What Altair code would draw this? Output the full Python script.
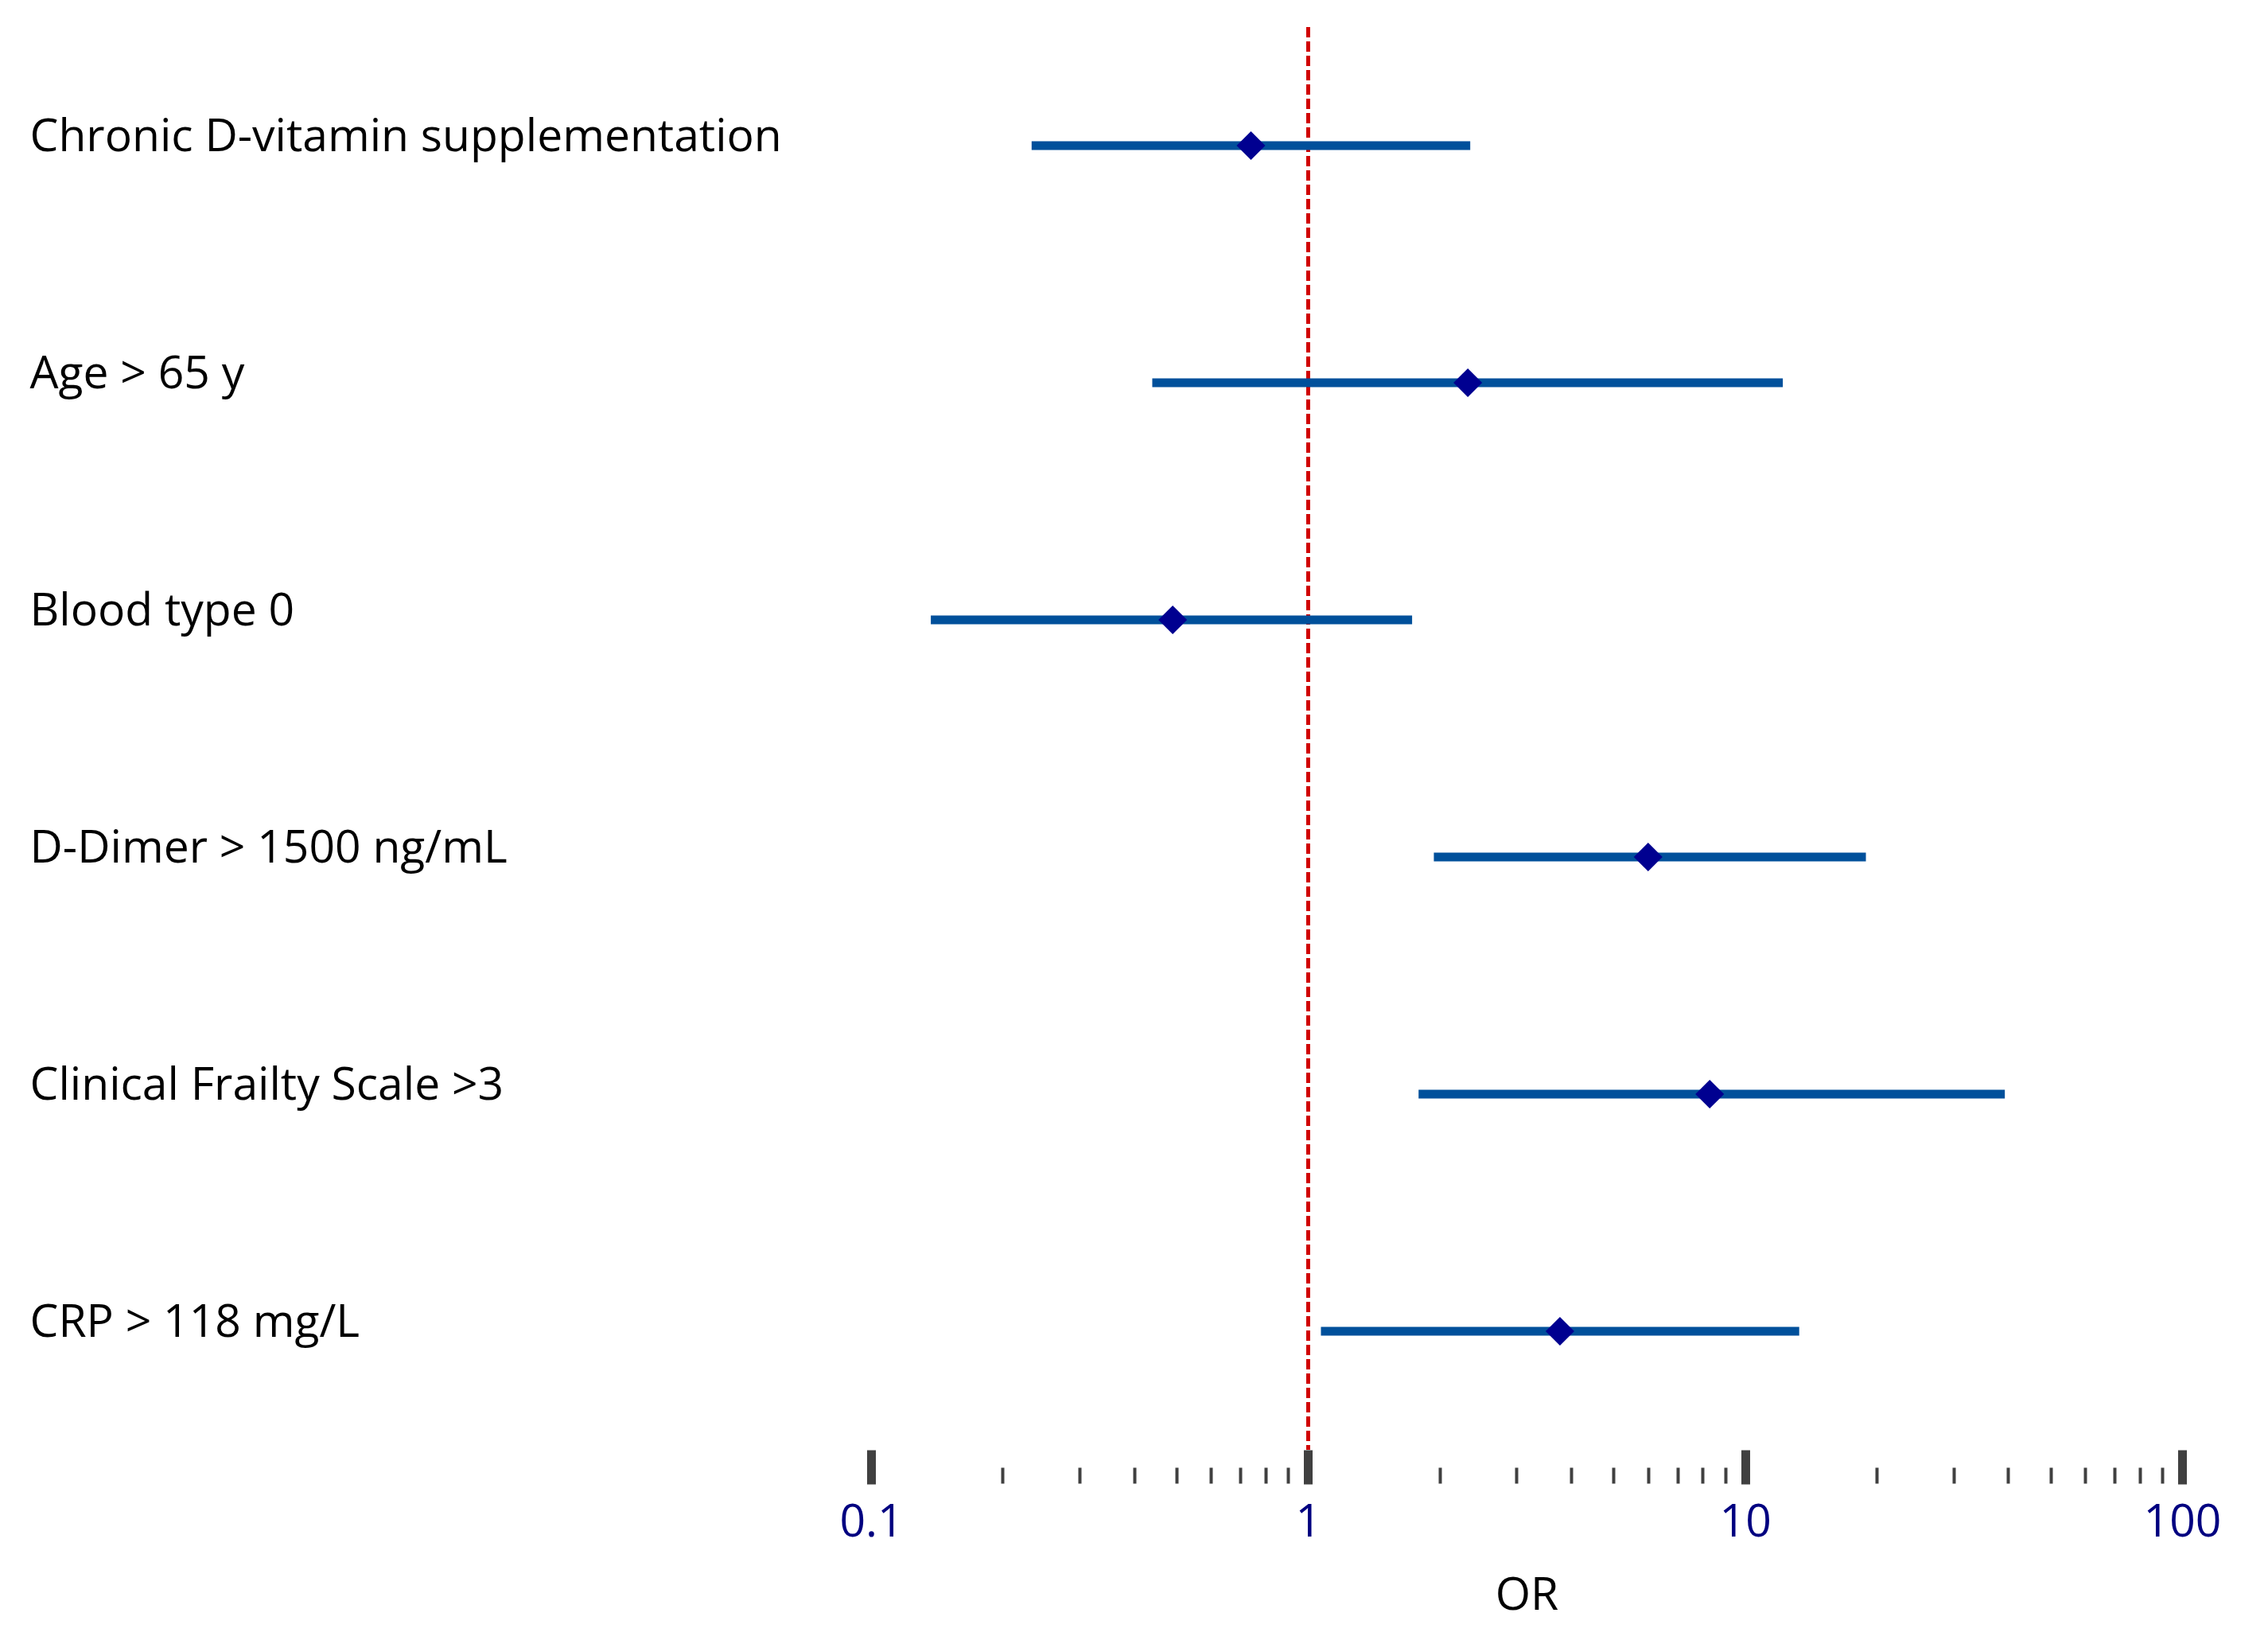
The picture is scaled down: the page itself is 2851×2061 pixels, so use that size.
import altair as alt
import pandas as pd

categories = [
    "Chronic D-vitamin supplementation",
    "Age > 65 y",
    "Blood type 0",
    "D-Dimer > 1500 ng/mL",
    "Clinical Frailty Scale >3",
    "CRP > 118 mg/L",
]
odds_ratio = [0.74, 2.32, 0.49, 6.0, 8.3, 3.77]
ci_low = [0.233, 0.44, 0.137, 1.94, 1.79, 1.07]
ci_high = [2.35, 12.2, 1.73, 18.9, 39.3, 13.3]

major_ticks = [0.1, 1, 10, 100]
minor_ticks = [0.2, 0.3, 0.4, 0.5, 0.6, 0.7, 0.8, 0.9,
               2, 3, 4, 5, 6, 7, 8, 9,
               20, 30, 40, 50, 60, 70, 80, 90]

df = pd.DataFrame({"cat": categories, "or": odds_ratio, "lo": ci_low, "hi": ci_high})
minor_df = pd.DataFrame({"v": minor_ticks})

FONT = "Open Sans"
FS = 57
W = 1648
H = 1788

xscale = alt.Scale(type="log", domain=[0.1, 100], nice=False)
yscale = alt.Scale(type="point", domain=categories, padding=0.5)

y_axis = alt.Axis(
    orient="left", domain=False, ticks=False, tickSize=0, grid=False,
    labelAlign="left", labelPadding=1058, labelLimit=2000,
    labelFontSize=FS, labelFont=FONT, labelColor="black",
    labelBaseline="middle", labelOffset=-11, title=None,
)

x_axis = alt.Axis(
    orient="bottom", values=major_ticks, format="~g", domain=False, grid=False,
    tickSize=43, tickWidth=11, tickColor="#404040", tickCap="butt",
    labelFontSize=FS, labelFont=FONT, labelColor="#000080", labelPadding=20,
    labelFlush=False,
    title="OR", titleFontSize=FS, titleFont=FONT, titleFontWeight="normal",
    titleColor="black", titlePadding=36,
)

minor_axis = alt.Axis(
    orient="bottom", values=minor_ticks, labels=False, domain=False, grid=False,
    tickSize=20, tickWidth=4, tickColor="#404040", tickCap="butt", offset=22,
    title=None,
)

bars = alt.Chart(df).mark_rule(strokeWidth=11, color="#00509B", strokeCap="butt").encode(
    x=alt.X("lo:Q", scale=xscale, axis=x_axis),
    x2="hi:Q",
    y=alt.Y("cat:N", scale=yscale, axis=y_axis, sort=categories),
)

points = alt.Chart(df).mark_point(shape="diamond", filled=True, size=1300, color="#000090", opacity=1).encode(
    x=alt.X("or:Q", scale=xscale, axis=None),
    y=alt.Y("cat:N", scale=yscale, axis=y_axis, sort=categories),
)

ref = alt.Chart(df).mark_rule(color="#D00000", strokeWidth=4, strokeDash=[13, 5]).encode(
    x=alt.X(datum=1, scale=xscale, axis=None),
)

minor = alt.Chart(minor_df).mark_rule(opacity=0).encode(
    x=alt.X("v:Q", scale=xscale, axis=minor_axis),
)

chart = alt.layer(ref, bars, points, minor).resolve_axis(x="independent").properties(
    width=W, height=H,
    padding={"left": 29, "top": 24, "right": 5, "bottom": 5},
).configure_view(stroke=None)

chart.save("out.html", embed_options={"renderer": "svg", "actions": False})
